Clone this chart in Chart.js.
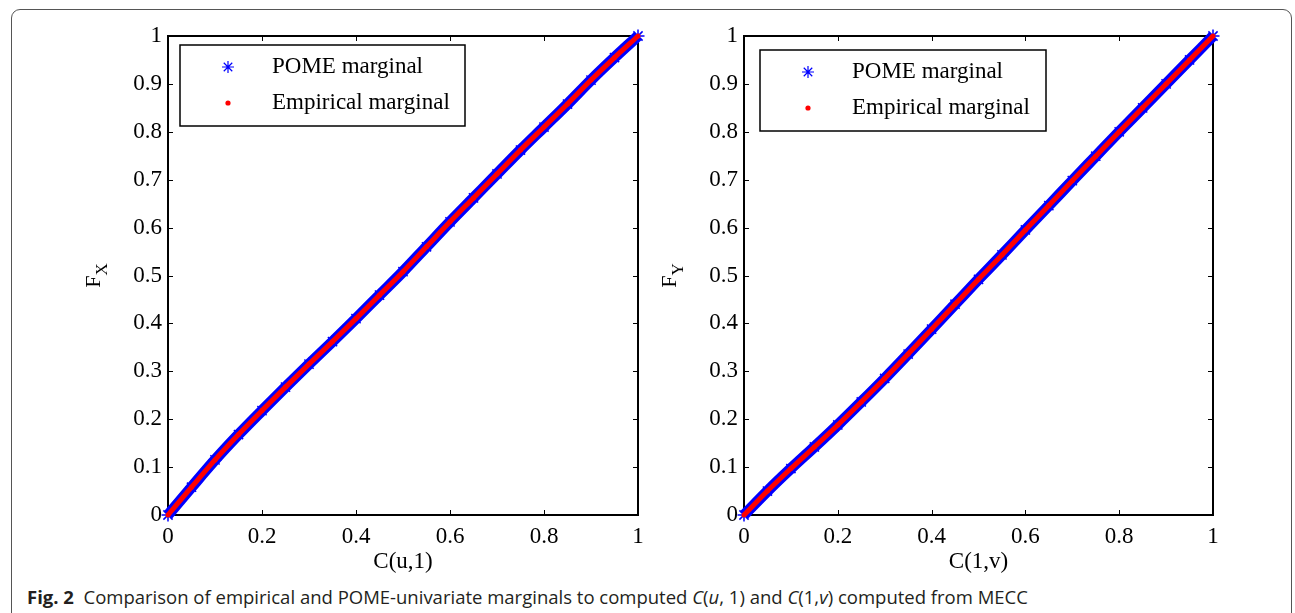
<!DOCTYPE html>
<html>
<head>
<meta charset="utf-8">
<script src="https://cdn.jsdelivr.net/npm/chart.js@4.4.1/dist/chart.umd.min.js"></script>
<style>
  body { margin: 0; background: #fff; width: 1295px; height: 613px; overflow: hidden; position: relative; }
  #frame { position: absolute; left: 11px; top: 9px; width: 1281px; height: 700px; border: 1.3px solid #555; border-radius: 9px; box-sizing: border-box; }
  canvas { position: absolute; top: 0; }
  #c1 { left: 40px; }
  #c2 { left: 616px; }
  #caption { position: absolute; left: 27px; top: 584px; font-family: "Open Sans", sans-serif; font-size: 18.5px; color: #231f20; white-space: nowrap; }
  #caption b { font-weight: 700; }
</style>
</head>
<body>
<div id="frame"></div>
<canvas id="c1" width="620" height="580"></canvas>
<canvas id="c2" width="620" height="580"></canvas>
<div id="caption"><b>Fig. 2</b>&nbsp; Comparison of empirical and POME-univariate marginals to computed <i>C</i>(<i>u</i>, 1) and <i>C</i>(1,<i>v</i>) computed from MECC</div>
<script>
// left panel: C(u,1) vs F_X
const uLeft = [0, 0.05, 0.1, 0.15, 0.2, 0.25, 0.3, 0.35, 0.4, 0.45, 0.5, 0.55, 0.6, 0.65, 0.7, 0.75, 0.8, 0.85, 0.9, 0.95, 1];
const fxLeft = [0, 0.058, 0.115, 0.168, 0.218, 0.267, 0.315, 0.362, 0.41, 0.459, 0.508, 0.56, 0.612, 0.662, 0.712, 0.762, 0.81, 0.858, 0.908, 0.955, 1];

// right panel: C(1,v) vs F_Y
const vRight = [0, 0.05, 0.1, 0.15, 0.2, 0.25, 0.3, 0.35, 0.4, 0.45, 0.5, 0.55, 0.6, 0.65, 0.7, 0.75, 0.8, 0.85, 0.9, 0.95, 1];
const fyRight = [0, 0.05, 0.097, 0.142, 0.188, 0.236, 0.285, 0.336, 0.388, 0.44, 0.492, 0.543, 0.595, 0.646, 0.698, 0.749, 0.8, 0.85, 0.9, 0.95, 1];

const xTickValues = [0, 0.2, 0.4, 0.6, 0.8, 1];
const yTickValues = [0, 0.1, 0.2, 0.3, 0.4, 0.5, 0.6, 0.7, 0.8, 0.9, 1];
const legendLabels = ['POME marginal', 'Empirical marginal'];

const serif = '"Liberation Serif", "Times New Roman", serif';
const tickFont = { family: serif, size: 23 };

// MATLAB style box, inward ticks, boxed legend and subscripted y label
const matlabBox = {
    id: 'matlabBox',
    beforeDatasetsDraw(chart) {
        const { ctx, chartArea: a, scales: { x, y } } = chart;
        ctx.save();
        ctx.strokeStyle = '#000';
        ctx.lineWidth = 1;
        ctx.beginPath();
        x.ticks.forEach(t => {
            const px = Math.round(x.getPixelForValue(t.value)) + 0.5;
            ctx.moveTo(px, a.bottom); ctx.lineTo(px, a.bottom - 5);
            ctx.moveTo(px, a.top); ctx.lineTo(px, a.top + 5);
        });
        y.ticks.forEach(t => {
            const py = Math.round(y.getPixelForValue(t.value)) + 0.5;
            ctx.moveTo(a.left, py); ctx.lineTo(a.left + 5, py);
            ctx.moveTo(a.right, py); ctx.lineTo(a.right - 5, py);
        });
        ctx.stroke();
        ctx.lineWidth = 2;
        ctx.strokeRect(a.left, a.top, a.right - a.left, a.bottom - a.top);
        ctx.restore();
    },
    afterDatasetsDraw(chart, args, opts) {
        const { ctx, chartArea: a } = chart;
        ctx.save();
        // legend
        const bx = a.left + opts.dx, by = a.top + opts.dy;
        ctx.fillStyle = '#fff';
        ctx.fillRect(bx, by, opts.w, 81);
        ctx.strokeStyle = '#000';
        ctx.lineWidth = 1.5;
        ctx.strokeRect(bx, by, opts.w, 81);
        ctx.strokeStyle = '#0000ff';
        ctx.lineWidth = 1.2;
        Chart.helpers.drawPoint(ctx, { pointStyle: 'star', radius: 6, rotation: 0, borderWidth: 1.2 }, bx + 48, by + 22);
        ctx.fillStyle = '#ff0000';
        ctx.beginPath();
        ctx.arc(bx + 48, by + 58, 2.6, 0, Math.PI * 2);
        ctx.fill();
        ctx.fillStyle = '#000';
        ctx.font = '23px ' + serif;
        ctx.textBaseline = 'middle';
        ctx.fillText(legendLabels[0], bx + 92, by + 22);
        ctx.fillText(legendLabels[1], bx + 92, by + 58);
        // y label with subscript
        const cy = (a.top + a.bottom) / 2;
        ctx.translate(a.left - 68, cy);
        ctx.rotate(-Math.PI / 2);
        ctx.textBaseline = 'alphabetic';
        ctx.font = '22px ' + serif;
        const wF = ctx.measureText('F').width;
        ctx.font = '17px ' + serif;
        const wS = ctx.measureText(opts.sub).width;
        const x0 = -(wF + wS) / 2;
        ctx.font = '22px ' + serif;
        ctx.fillText('F', x0, 0);
        ctx.font = '17px ' + serif;
        ctx.fillText(opts.sub, x0 + wF, 7);
        ctx.restore();
    }
};

function makeChart(id, xs, ys, xTitle, sub, padRight, legend) {
    const pts = xs.map((v, i) => ({ x: v, y: ys[i] }));
    return new Chart(document.getElementById(id), {
        type: 'scatter',
        data: {
            datasets: [{
                label: legendLabels[1],
                data: pts,
                showLine: true,
                cubicInterpolationMode: 'monotone',
                borderColor: '#ff0000',
                borderWidth: 5,
                pointRadius: 2.5,
                pointBackgroundColor: '#ff0000',
                pointBorderWidth: 0,
                clip: false
            }, {
                label: legendLabels[0],
                data: pts,
                showLine: true,
                cubicInterpolationMode: 'monotone',
                borderColor: '#0000ff',
                borderWidth: 11,
                pointStyle: 'star',
                pointRadius: 6.5,
                pointBorderColor: '#0000ff',
                pointBorderWidth: 1.5,
                clip: false
            }]
        },
        options: {
            responsive: false,
            animation: false,
            layout: { padding: { left: 0, right: padRight, top: 36, bottom: 0 } },
            plugins: {
                legend: { display: false },
                tooltip: { enabled: false },
                matlabBox: { dx: legend.dx, dy: legend.dy, w: legend.w, sub }
            },
            scales: {
                x: {
                    type: 'linear', min: 0, max: 1,
                    afterBuildTicks: s => { s.ticks = xTickValues.map(v => ({ value: v })); },
                    afterFit: s => { s.height = 65; },
                    grid: { display: false, drawTicks: false },
                    border: { display: false },
                    ticks: { padding: 8, font: tickFont, color: '#000', maxRotation: 0, callback: v => String(v) },
                    title: { display: true, text: xTitle, font: tickFont, color: '#000', padding: { top: 0, bottom: 4 } }
                },
                y: {
                    type: 'linear', min: 0, max: 1,
                    afterBuildTicks: s => { s.ticks = yTickValues.map(v => ({ value: v })); },
                    afterFit: s => { s.width = 128; },
                    grid: { display: false, drawTicks: false },
                    border: { display: false },
                    ticks: { padding: 6, font: tickFont, color: '#000', callback: v => String(v) }
                }
            }
        },
        plugins: [matlabBox]
    });
}

makeChart('c1', uLeft, fxLeft, 'C(u,1)', 'X', 22, { dx: 12, dy: 9, w: 285 });
makeChart('c2', vRight, fyRight, 'C(1,v)', 'Y', 23, { dx: 16, dy: 14, w: 286 });
</script>
</body>
</html>
